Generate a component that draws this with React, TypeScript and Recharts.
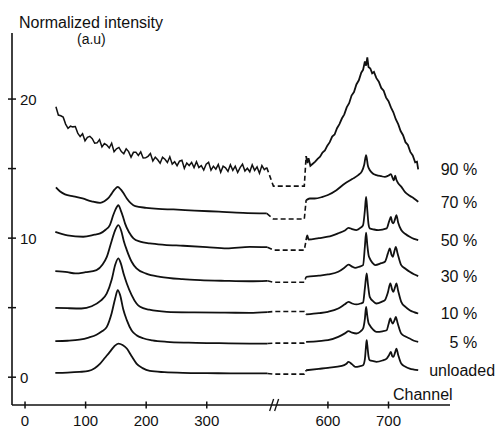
import { LineChart, Line, XAxis, YAxis, LabelList } from "recharts";

const FONT = '"Liberation Sans", Arial, Helvetica, sans-serif';
const INK = "#111";

// channels 450-550 are cut out of the axis (the "//" break)
const CUT_FROM = 450;
const CUT_SIZE = 100;
const toAxis = (ch: number) => (ch > CUT_FROM ? ch - CUT_SIZE : ch);

const X_TICKS = [0, 100, 200, 300, 600, 700];
const BREAK_CH = 412;
const Y_TICKS = [0, 5, 10, 15, 20];
const Y_LABELS = [0, 10, 20];

const SERIES = ["unloaded", "5 %", "10 %", "30 %", "50 %", "70 %", "90 %"];

// [channel, intensity]
const UNLOADED_L = [[50, 0.31], [70, 0.33], [90, 0.38], [105, 0.45], [115, 0.65], [124, 0.98], [132, 1.4], [140, 1.82], [147, 2.2], [154, 2.42], [161, 2.32], [168, 2.06], [176, 1.5], [184, 0.98], [194, 0.65], [206, 0.45], [230, 0.36], [261, 0.31], [300, 0.29], [340, 0.28], [371, 0.27], [400, 0.27]];
const UNLOADED_R = [[564, 0.5], [585, 0.6], [600, 0.67], [623, 0.81], [630, 0.95], [634, 1.1], [640, 0.92], [645, 0.74], [652, 0.78], [658, 0.86], [661, 1.3], [663, 2.3], [664, 2.66], [665, 2.3], [667, 1.5], [669, 1.22], [675, 1.15], [680, 1.1], [690, 1.2], [697, 1.34], [701, 1.6], [704, 1.82], [706, 1.52], [708, 1.46], [711, 1.8], [713, 2.06], [716, 1.6], [721, 0.98], [728, 0.75], [735, 0.62], [742, 0.55], [749, 0.5]];

const P5_L = [[50, 2.59], [70, 2.62], [90, 2.7], [105, 2.85], [118, 3.05], [127, 3.3], [135, 3.62], [143, 4.6], [149, 5.7], [153, 6.26], [157, 5.9], [162, 4.9], [168, 4.1], [176, 3.35], [184, 3.02], [195, 2.8], [210, 2.65], [234, 2.54], [270, 2.48], [310, 2.45], [371, 2.42], [400, 2.42]];
const P5_R = [[564, 2.54], [585, 2.6], [600, 2.66], [617, 2.9], [628, 3.15], [634, 3.31], [640, 3.2], [647, 3.14], [654, 3.3], [658, 3.5], [661, 4.2], [663, 5.06], [665, 4.4], [667, 3.9], [669, 3.74], [675, 3.4], [680, 3.26], [690, 3.3], [697, 3.38], [700, 3.8], [703, 4.22], [705, 4.0], [707, 3.86], [710, 4.1], [712, 4.34], [715, 3.9], [721, 3.14], [728, 2.92], [735, 2.78], [742, 2.62], [749, 2.54]];

const P10_L = [[50, 4.99], [70, 4.96], [93, 4.94], [110, 5.1], [125, 5.5], [135, 6.02], [143, 7.0], [149, 8.1], [154, 8.54], [158, 8.2], [163, 7.4], [168, 6.74], [176, 5.9], [184, 5.3], [190, 5.06], [205, 4.85], [234, 4.7], [280, 4.66], [330, 4.64], [371, 4.63], [400, 4.68]];
const P10_R = [[564, 4.51], [585, 4.6], [600, 4.7], [617, 4.94], [628, 5.25], [634, 5.42], [640, 5.3], [647, 5.23], [654, 5.3], [658, 5.37], [661, 6.4], [664, 7.46], [666, 6.7], [669, 5.78], [675, 5.45], [680, 5.3], [690, 5.45], [694, 5.54], [699, 6.1], [703, 6.74], [706, 6.3], [708, 6.14], [711, 6.5], [713, 6.74], [716, 6.2], [721, 5.42], [728, 5.05], [735, 4.82], [742, 4.68], [749, 4.58]];

const P30_L = [[50, 7.63], [70, 7.55], [83, 7.46], [100, 7.55], [118, 7.7], [128, 8.1], [135, 8.65], [143, 9.8], [149, 10.6], [154, 10.94], [159, 10.5], [163, 9.8], [168, 9.14], [176, 8.3], [184, 7.82], [200, 7.45], [223, 7.22], [260, 7.05], [289, 6.98], [330, 6.93], [371, 6.9], [400, 6.93]];
const P30_R = [[564, 7.22], [585, 7.3], [600, 7.39], [617, 7.58], [628, 7.9], [634, 8.1], [640, 7.95], [645, 7.86], [652, 7.95], [658, 8.06], [661, 9.4], [663, 10.4], [665, 9.5], [667, 8.8], [669, 8.54], [674, 8.2], [678, 8.06], [688, 8.2], [694, 8.3], [699, 8.9], [702, 9.26], [705, 8.8], [707, 8.66], [710, 9.1], [712, 9.37], [715, 8.9], [721, 8.06], [728, 7.8], [735, 7.58], [742, 7.4], [749, 7.27]];

const P50_L = [[50, 10.45], [70, 10.2], [96, 10.1], [115, 10.25], [124, 10.34], [133, 10.6], [140, 10.94], [146, 11.7], [151, 12.2], [154, 12.37], [158, 12.0], [162, 11.5], [165, 11.06], [172, 10.4], [179, 9.98], [190, 9.75], [206, 9.62], [230, 9.52], [261, 9.45], [300, 9.35], [333, 9.26], [371, 9.37], [400, 9.35]];
const P50_R = [[564, 9.86], [566, 10.2], [568, 9.9], [585, 10.0], [600, 10.1], [617, 10.35], [628, 10.55], [634, 10.74], [640, 10.65], [647, 10.58], [654, 10.75], [658, 10.94], [661, 12.0], [663, 12.97], [665, 12.0], [667, 11.0], [669, 10.7], [676, 10.62], [683, 10.58], [697, 10.7], [701, 11.2], [704, 11.53], [706, 11.15], [708, 11.06], [711, 11.4], [713, 11.65], [716, 11.1], [721, 10.58], [728, 10.3], [735, 10.1], [742, 9.95], [749, 9.86]];

const P70_L = [[51, 13.65], [58, 13.35], [66, 13.15], [80, 13.0], [95, 12.85], [110, 12.65], [124, 12.54], [131, 12.65], [137, 12.85], [143, 13.2], [148, 13.5], [153, 13.69], [158, 13.5], [163, 13.2], [168, 12.85], [175, 12.5], [182, 12.3], [200, 12.18], [220, 12.1], [245, 12.06], [280, 11.98], [320, 11.9], [360, 11.82], [399, 11.78]];
const P70_R = [[564, 12.73], [570, 12.85], [578, 12.85], [590, 12.95], [600, 13.1], [614, 13.45], [628, 13.93], [640, 14.25], [650, 14.53], [656, 14.8], [660, 15.3], [663, 15.97], [666, 15.2], [669, 14.9], [674, 14.65], [680, 14.53], [688, 14.45], [694, 14.4], [700, 14.5], [704, 14.6], [707, 14.3], [709, 14.15], [711, 14.5], [713, 14.2], [716, 13.95], [721, 13.7], [727, 13.33], [735, 13.05], [742, 12.85], [749, 12.61]];

const P90_L = [[51, 19.45], [55, 18.85], [59, 18.8], [63, 18.7], [67, 18.2], [71, 17.9], [75, 18.05], [79, 18.0], [83, 18.02], [87, 17.55], [91, 17.3], [95, 17.5], [99, 17.0], [103, 17.25], [107, 17.32], [111, 17.15], [115, 16.82], [119, 16.85], [123, 17.08], [127, 16.56], [131, 16.8], [135, 16.69], [139, 16.48], [143, 16.82], [147, 16.22], [151, 16.42], [155, 16.52], [159, 16.22], [163, 16.07], [167, 16.42], [171, 16.22], [175, 15.82], [179, 16.17], [183, 16.18], [187, 15.94], [191, 16.2], [195, 15.76], [199, 15.77], [203, 15.88], [207, 16.09], [211, 15.55], [215, 15.82], [219, 15.63], [223, 15.39], [227, 15.81], [231, 15.67], [235, 15.44], [239, 15.85], [243, 15.32], [247, 15.49], [251, 15.21], [255, 15.53], [259, 15.6], [263, 15.02], [267, 15.4], [271, 15.22], [275, 15.45], [279, 15.07], [283, 15.5], [287, 15.08], [291, 15.21], [295, 14.89], [299, 15.32], [303, 15.45], [307, 14.89], [311, 15.17], [315, 14.96], [319, 15.3], [323, 14.73], [327, 15.17], [331, 15.06], [335, 14.8], [339, 15.27], [343, 14.87], [347, 15.17], [351, 14.72], [355, 15.07], [359, 15.32], [363, 14.82], [367, 15.02], [371, 14.77], [375, 15.27], [379, 14.87], [383, 15.12], [387, 14.67], [391, 15.22], [395, 14.92], [399, 15.07]];
const P90_R = [[564, 15.9], [566, 15.4], [568, 15.75], [571, 15.2], [575, 15.35], [579, 15.5], [583, 15.7], [587, 15.85], [591, 16.15], [595, 16.3], [599, 16.65], [603, 16.9], [607, 17.3], [611, 17.45], [615, 17.9], [619, 18.2], [623, 18.6], [627, 18.9], [631, 19.4], [635, 19.7], [639, 20.25], [643, 20.5], [647, 21.05], [651, 21.35], [655, 21.9], [658, 22.1], [661, 22.7], [663, 22.4], [665, 23.0], [667, 22.3], [670, 22.2], [673, 21.85], [676, 21.95], [680, 21.5], [684, 21.25], [688, 20.8], [692, 20.6], [696, 20.1], [700, 19.85], [704, 19.4], [708, 19.05], [712, 18.55], [716, 18.2], [720, 17.7], [724, 17.4], [728, 16.9], [732, 16.7], [736, 16.2], [740, 15.95], [744, 15.45], [747, 15.5], [749, 14.95]];

// level of the dashed link drawn across the cut, per series
const GAP_LEVEL = [0.22, 2.45, 4.72, 6.83, 9.14, 11.37, 13.74];
const GAP_FROM = 410;
const GAP_TO = 561;

const LEFT = [UNLOADED_L, P5_L, P10_L, P30_L, P50_L, P70_L, P90_L];
const RIGHT = [UNLOADED_R, P5_R, P10_R, P30_R, P50_R, P70_R, P90_R];

const pts = (arr: number[][]) => arr.map(([c, v]) => ({ x: toAxis(c), y: v }));

const gapPts = (i: number) => {
  const l = LEFT[i][LEFT[i].length - 1];
  const r = RIGHT[i][0];
  return pts([l, [GAP_FROM, GAP_LEVEL[i]], [GAP_TO, GAP_LEVEL[i]], r]);
};

const xTickLabel = new Map(X_TICKS.map((c) => [toAxis(c), String(c)]));

function XTick({ x, y, payload }: any) {
  if (payload.value === toAxis(BREAK_CH)) {
    return (
      <g stroke={INK} strokeWidth={1.3}>
        <line x1={x - 5} y1={y + 6} x2={x - 1} y2={y - 6} />
        <line x1={x} y1={y + 6} x2={x + 4} y2={y - 6} />
      </g>
    );
  }
  return (
    <g>
      <line x1={x} y1={y - 3.5} x2={x} y2={y + 3.5} stroke={INK} strokeWidth={1.5} />
      <text x={x} y={y + 21} textAnchor="middle" fontSize={15} fontFamily={FONT} fill={INK}>
        {xTickLabel.get(payload.value)}
      </text>
    </g>
  );
}

function YTick({ x, y, payload }: any) {
  return (
    <g>
      <line x1={x - 4} y1={y} x2={x + 4} y2={y} stroke={INK} strokeWidth={1.5} />
      {Y_LABELS.includes(payload.value) && (
        <text x={x + 8} y={y + 6} fontSize={15} fontFamily={FONT} fill={INK}>
          {payload.value}
        </text>
      )}
    </g>
  );
}

const endLabel = (name: string, last: number) => (props: any) => {
  if (props.index !== last) return null;
  const unloaded = name === "unloaded";
  return (
    <text
      x={props.x + (unloaded ? 11 : 59)}
      y={props.y + 6}
      textAnchor={unloaded ? "start" : "end"}
      fontSize={16}
      fontFamily={FONT}
      fill={INK}
    >
      {name}
    </text>
  );
};

export default function App() {
  return (
    <div style={{ position: "relative", width: 495, height: 429, background: "#fff" }}>
      <style>{"body{margin:0}"}</style>
      <LineChart width={495} height={429} margin={{ top: 33, right: 45, bottom: 23, left: 11 }}>
        <XAxis
          type="number"
          dataKey="x"
          domain={[-21.5, 701.5]}
          ticks={[...X_TICKS.map(toAxis), toAxis(BREAK_CH)]}
          interval={0}
          height={1}
          tickSize={0}
          tickMargin={0}
          tickLine={false}
          axisLine={{ stroke: INK, strokeWidth: 1.6 }}
          tick={(p: any) => <XTick {...p} />}
        />
        <YAxis
          type="number"
          domain={[-2, 24.75]}
          ticks={Y_TICKS}
          interval={0}
          width={1}
          tickSize={0}
          tickMargin={0}
          tickLine={false}
          axisLine={{ stroke: INK, strokeWidth: 1.6 }}
          tick={(p: any) => <YTick {...p} />}
        />
        {SERIES.map((name, i) => [
          <Line
            key={`left-${i}`}
            data={pts(LEFT[i])}
            dataKey="y"
            type={i === 6 ? "linear" : "monotone"}
            stroke={INK}
            strokeWidth={i === 6 ? 1.5 : 1.8}
            dot={false}
            isAnimationActive={false}
          />,
          <Line
            key={`gap-${i}`}
            data={gapPts(i)}
            dataKey="y"
            type="linear"
            stroke={INK}
            strokeWidth={1.6}
            strokeDasharray="5 3"
            dot={false}
            isAnimationActive={false}
          />,
          <Line
            key={`right-${i}`}
            data={pts(RIGHT[i])}
            dataKey="y"
            type={i === 6 ? "linear" : "monotone"}
            stroke={INK}
            strokeWidth={1.8}
            dot={false}
            isAnimationActive={false}
          >
            <LabelList dataKey="y" content={endLabel(name, RIGHT[i].length - 1)} />
          </Line>,
        ])}
      </LineChart>
      <svg
        width={495}
        height={429}
        style={{ position: "absolute", left: 0, top: 0, pointerEvents: "none" }}
        fontFamily={FONT}
        fill={INK}
      >
        <text x={19} y={28} fontSize={16}>Normalized intensity</text>
        <text x={77} y={44} fontSize={14}>(a.u)</text>
        <text x={393} y={400} fontSize={16}>Channel</text>
      </svg>
    </div>
  );
}
